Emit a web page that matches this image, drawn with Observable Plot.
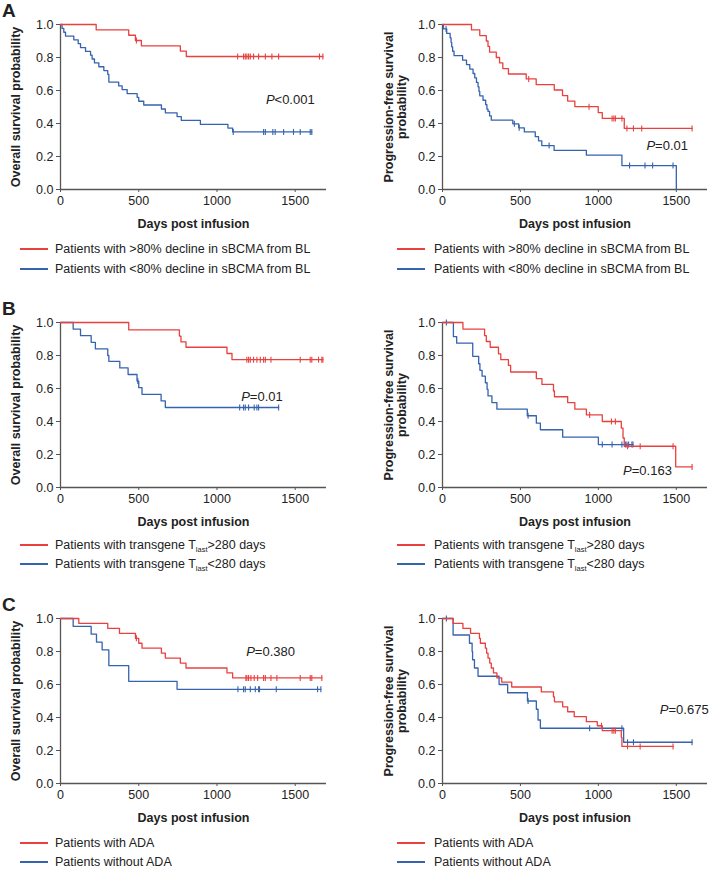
<!DOCTYPE html>
<html><head><meta charset="utf-8">
<script src="https://cdn.jsdelivr.net/npm/d3@7"></script>
<script src="https://cdn.jsdelivr.net/npm/@observablehq/plot@0.6"></script>
<style>
body{margin:0;background:#fff;}
#page{position:relative;width:710px;height:870px;font-family:"Liberation Sans",Arial,Helvetica,sans-serif;color:#222;overflow:hidden;background:#fff}
.panel{position:absolute;width:355px;}
.letter{position:absolute;left:2px;font-weight:bold;font-size:19px;line-height:19px;}
.leg{position:absolute;display:flex;align-items:center;height:16px;font-size:12.5px;white-space:nowrap;color:#222}
.sw{display:inline-block;width:28px;height:2px;margin-right:7px}
.leg sub{font-size:7.5px;vertical-align:-3px;line-height:0}
</style></head><body><div id="page"></div>
<script>
// ---------- data ----------
const xTicks = [0, 500, 1000, 1500];
const yTicks = [0, 0.2, 0.4, 0.6, 0.8, 1.0];
const rowLetters = ["A", "B", "C"];
const osLabel = "Overall survival probability";
const pfsLabel = "Progression-free survival\nprobability";
const xLabel = "Days post infusion";

// A: sBCMA decline — OS
const osA_red_t = [0, 228, 436, 479, 517, 766, 804];
const osA_red_s = [1, 0.968, 0.935, 0.903, 0.871, 0.839, 0.806];
const osA_red_c = [485, 1132, 1170, 1181, 1191, 1202, 1213, 1234, 1266, 1309, 1351, 1394, 1655, 1677];
const osA_blue_t = [0, 10, 21, 32, 85, 113, 128, 160, 192, 202, 217, 245, 277, 302, 309, 372, 394, 426, 490, 500, 532, 645, 670, 745, 772, 894, 1070, 1100];
const osA_blue_s = [1, 0.976, 0.953, 0.930, 0.907, 0.884, 0.860, 0.837, 0.814, 0.791, 0.767, 0.744, 0.721, 0.698, 0.651, 0.628, 0.605, 0.581, 0.558, 0.535, 0.512, 0.488, 0.465, 0.442, 0.419, 0.395, 0.372, 0.349];
const osA_blue_c = [1104, 1298, 1309, 1357, 1372, 1426, 1489, 1532, 1596, 1606];
// A: sBCMA decline — PFS
const pfsA_red_t = [0, 186, 239, 281, 292, 302, 345, 366, 387, 423, 537, 601, 717, 770, 803, 849, 999, 1025, 1166];
const pfsA_red_s = [1, 0.967, 0.933, 0.900, 0.867, 0.833, 0.800, 0.767, 0.733, 0.700, 0.670, 0.636, 0.603, 0.569, 0.536, 0.502, 0.466, 0.431, 0.370];
const pfsA_red_c = [553, 940, 1088, 1099, 1109, 1151, 1183, 1225, 1278, 1601];
const pfsA_blue_t = [0, 6, 27, 49, 55, 59, 65, 74, 129, 154, 175, 196, 207, 218, 228, 234, 239, 260, 277, 285, 292, 302, 313, 451, 489, 525, 595, 616, 637, 716, 923, 1151, 1500];
const pfsA_blue_s = [1, 0.973, 0.946, 0.919, 0.892, 0.865, 0.838, 0.811, 0.784, 0.757, 0.730, 0.703, 0.676, 0.649, 0.622, 0.595, 0.568, 0.541, 0.514, 0.487, 0.473, 0.446, 0.420, 0.398, 0.374, 0.349, 0.320, 0.295, 0.266, 0.237, 0.208, 0.145, 0];
const pfsA_blue_c = [23, 461, 492, 684, 1200, 1299, 1348, 1479];

// B: transgene Tlast — OS
const osB_red_t = [0, 436, 760, 770, 802, 1064, 1096];
const osB_red_s = [1, 0.955, 0.918, 0.882, 0.850, 0.812, 0.775];
const osB_red_c = [1191, 1202, 1213, 1234, 1255, 1277, 1298, 1309, 1345, 1532, 1596, 1606, 1649, 1670, 1677];
const osB_blue_t = [0, 81, 128, 196, 223, 302, 309, 379, 432, 489, 500, 521, 643, 670];
const osB_blue_s = [1, 0.96, 0.92, 0.88, 0.84, 0.80, 0.765, 0.725, 0.685, 0.645, 0.605, 0.565, 0.525, 0.485];
const osB_blue_c = [494, 1145, 1170, 1181, 1202, 1238, 1255, 1266, 1394];
// B: transgene Tlast — PFS
const pfsB_red_t = [0, 131, 270, 281, 306, 359, 374, 423, 437, 602, 638, 712, 718, 803, 849, 923, 1025, 1147, 1158, 1166, 1496];
const pfsB_red_s = [1, 0.96, 0.92, 0.885, 0.85, 0.81, 0.775, 0.74, 0.70, 0.66, 0.625, 0.585, 0.55, 0.515, 0.475, 0.44, 0.40, 0.36, 0.30, 0.25, 0.125];
const pfsB_red_c = [944, 1084, 1109, 1187, 1268, 1479, 1601];
const pfsB_blue_t = [0, 70, 91, 194, 232, 240, 254, 275, 286, 292, 317, 349, 544, 602, 628, 771, 1000];
const pfsB_blue_s = [1, 0.915, 0.875, 0.795, 0.75, 0.71, 0.675, 0.635, 0.595, 0.555, 0.515, 0.475, 0.435, 0.39, 0.35, 0.305, 0.26];
const pfsB_blue_c = [25, 549, 1025, 1088, 1151, 1173, 1183, 1194, 1215, 1222];

// C: ADA — OS
const osC_red_t = [0, 117, 302, 377, 479, 500, 521, 645, 670, 766, 802, 1064, 1100];
const osC_red_s = [1, 0.97, 0.94, 0.91, 0.88, 0.85, 0.82, 0.79, 0.76, 0.73, 0.70, 0.67, 0.64];
const osC_red_c = [485, 1185, 1191, 1202, 1217, 1238, 1260, 1298, 1309, 1345, 1383, 1532, 1596, 1606, 1670];
const osC_blue_t = [0, 81, 196, 230, 266, 309, 436, 745];
const osC_blue_s = [1, 0.952, 0.905, 0.857, 0.810, 0.714, 0.619, 0.571];
const osC_blue_c = [1134, 1170, 1181, 1213, 1245, 1266, 1272, 1379, 1643, 1664];
// C: ADA — PFS
const pfsC_red_t = [0, 68, 131, 180, 237, 243, 275, 283, 292, 303, 313, 327, 349, 380, 444, 634, 712, 718, 771, 803, 845, 923, 993, 1025, 1147, 1151];
const pfsC_red_s = [1, 0.97, 0.94, 0.91, 0.88, 0.85, 0.82, 0.79, 0.76, 0.73, 0.70, 0.67, 0.64, 0.615, 0.585, 0.555, 0.525, 0.495, 0.465, 0.435, 0.405, 0.375, 0.35, 0.32, 0.28, 0.225];
const pfsC_red_c = [1020, 1088, 1099, 1109, 1187, 1268, 1479];
const pfsC_blue_t = [0, 68, 173, 190, 193, 205, 228, 363, 418, 545, 602, 613, 628, 1162];
const pfsC_blue_s = [1, 0.90, 0.85, 0.80, 0.75, 0.70, 0.65, 0.60, 0.55, 0.50, 0.45, 0.385, 0.335, 0.25];
const pfsC_blue_c = [25, 549, 944, 1151, 1187, 1225, 1601];

// legends
const legA = ["Patients with >80% decline in sBCMA from BL", "Patients with <80% decline in sBCMA from BL"];
const legB = ["Patients with transgene T<sub>last</sub>&gt;280 days", "Patients with transgene T<sub>last</sub>&lt;280 days"];
const legC = ["Patients with ADA", "Patients without ADA"];
// p-values
const pA = ["<0.001", "=0.01"];
const pB = ["=0.01", "=0.163"];
const pC = ["=0.380", "=0.675"];

// ---------- styles / layout ----------
const RED = "#e8413f", BLUE = "#3563ae", AXIS = "#555", TXT = "#222";
const rowTop = [0, 298, 594];
const legY = [[249, 269], [545, 564], [843, 862]];
const pPos = [[{x: 1368, y: 0.545}, {x: 1364, y: 0.267}], [{x: 1210, y: 0.552}, {x: 1214, y: 0.099}], [{x: 1242, y: 0.80}, {x: 1450, y: 0.445}]];

const grid = [
  [{lab: osLabel, curves: [[osA_red_t, osA_red_s, osA_red_c, RED], [osA_blue_t, osA_blue_s, osA_blue_c, BLUE]]},
   {lab: pfsLabel, curves: [[pfsA_red_t, pfsA_red_s, pfsA_red_c, RED], [pfsA_blue_t, pfsA_blue_s, pfsA_blue_c, BLUE]]}],
  [{lab: osLabel, curves: [[osB_red_t, osB_red_s, osB_red_c, RED], [osB_blue_t, osB_blue_s, osB_blue_c, BLUE]]},
   {lab: pfsLabel, curves: [[pfsB_red_t, pfsB_red_s, pfsB_red_c, RED], [pfsB_blue_t, pfsB_blue_s, pfsB_blue_c, BLUE]]}],
  [{lab: osLabel, curves: [[osC_red_t, osC_red_s, osC_red_c, RED], [osC_blue_t, osC_blue_s, osC_blue_c, BLUE]]},
   {lab: pfsLabel, curves: [[pfsC_red_t, pfsC_red_s, pfsC_red_c, RED], [pfsC_blue_t, pfsC_blue_s, pfsC_blue_c, BLUE]]}]
];
const legs = [legA, legB, legC];
const pvals = [pA, pB, pC];

const tickSymbol = {draw(ctx, size) { const h = Math.sqrt(size / Math.PI); ctx.moveTo(0, -h); ctx.lineTo(0, h); }};

function survAt(t, s, time) { let v = s[0]; for (let i = 0; i < t.length; i++) if (t[i] <= time) v = s[i]; return v; }

const page = document.getElementById("page");

grid.forEach((row, r) => {
  row.forEach((cfg, c) => {
    const left = c === 0;
    const marks = [
      Plot.axisX({ticks: xTicks, tickFormat: d3.format("d"), tickSize: 3, tickPadding: 4, label: null, stroke: AXIS, fill: TXT, fontSize: 12.5}),
      Plot.axisY({ticks: yTicks, tickFormat: d3.format(".1f"), tickSize: 4, tickPadding: 3, label: null, stroke: AXIS, fill: TXT, fontSize: 12.5}),
      Plot.ruleY([0], {stroke: AXIS, strokeWidth: 1.3}),
      Plot.ruleX([0], {stroke: AXIS, strokeWidth: 1.3})
    ];
    // draw blue first, red on top
    [...cfg.curves].reverse().forEach(([t, s, cens, color]) => {
      const pts = t.map((d, i) => ({x: d, y: s[i]}));
      const end = Math.max(t[t.length - 1], d3.max(cens));
      pts.push({x: end, y: s[s.length - 1]});
      const cpts = cens.map(d => ({x: d, y: survAt(t, s, d)}));
      marks.push(Plot.line(pts, {x: "x", y: "y", curve: "step-after", stroke: color, strokeWidth: 1.3}));
      marks.push(Plot.dot(cpts, {x: "x", y: "y", symbol: tickSymbol, r: 3, stroke: color, strokeWidth: 1.1, fill: "none"}));
    });
    const pp = pPos[r][c];
    marks.push(Plot.text([pp], {x: "x", y: "y", text: () => "P", fontStyle: "italic", textAnchor: "end", fontSize: 13, fill: TXT}));
    marks.push(Plot.text([pp], {x: "x", y: "y", text: () => pvals[r][c], textAnchor: "start", fontSize: 13, fill: TXT}));
    marks.push(Plot.text([xLabel], {text: d => d, frameAnchor: "bottom", dy: 34, lineAnchor: "middle", fontWeight: "bold", fontSize: 12.5, fill: TXT}));
    marks.push(Plot.text([cfg.lab], {text: d => d, frameAnchor: "left", rotate: -90, dx: left ? -45 : -47, textAnchor: "middle", lineAnchor: "middle", lineHeight: 1.07, fontWeight: "bold", fontSize: 12.5, fill: TXT}));

    const chart = Plot.plot({
      width: 355, height: 232,
      marginTop: 24, marginBottom: 43,
      marginLeft: left ? 60 : 87, marginRight: left ? 29 : 3,
      style: {fontFamily: '"Liberation Sans", Arial, sans-serif', fontSize: "12.5px", background: "transparent", color: TXT, overflow: "visible"},
      x: {domain: [0, 1700]},
      y: {domain: [0, 1]},
      marks
    });
    const div = document.createElement("div");
    div.className = "panel";
    div.style.left = (left ? 0 : 355) + "px";
    div.style.top = rowTop[r] + "px";
    div.appendChild(chart);
    page.appendChild(div);

    // legend
    legs[r].forEach((txt, k) => {
      const lg = document.createElement("div");
      lg.className = "leg";
      lg.style.left = (left ? 20 : 397) + "px";
      lg.style.top = (legY[r][k] - 8) + "px";
      lg.innerHTML = `<span class="sw" style="background:${k === 0 ? RED : BLUE};${left ? "" : "margin-right:9px"}"></span><span>${txt}</span>`;
      page.appendChild(lg);
    });
  });
  const L = document.createElement("div");
  L.className = "letter";
  L.style.top = (rowTop[r] + 1) + "px";
  L.textContent = rowLetters[r];
  page.appendChild(L);
});
</script></body></html>
